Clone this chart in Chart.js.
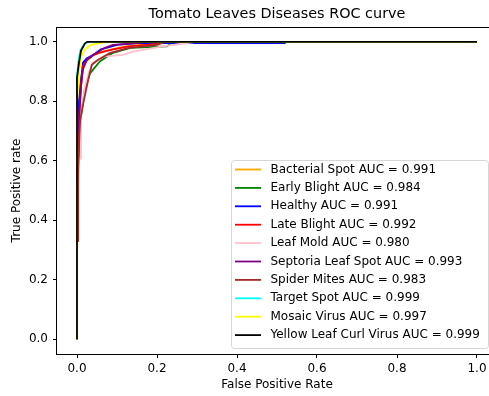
<!doctype html>
<html lang="en">
<head>
<meta charset="utf-8">
<title>Tomato Leaves Diseases ROC curve</title>
<script src="https://cdn.jsdelivr.net/npm/chart.js@4.4.1/dist/chart.umd.min.js"></script>
<style>
  html, body { margin: 0; padding: 0; background: #fff; overflow: hidden; }
  #wrap { width: 520px; height: 396px; }
</style>
</head>
<body>
<div id="wrap"><canvas id="roc" width="520" height="396"></canvas></div>
<script>
// class names, AUC scores and line colours
const classNames = ['Bacterial Spot', 'Early Blight', 'Healthy', 'Late Blight', 'Leaf Mold',
  'Septoria Leaf Spot', 'Spider Mites', 'Target Spot', 'Mosaic Virus', 'Yellow Leaf Curl Virus'];
const aucScores = ['0.991', '0.984', '0.991', '0.992', '0.980', '0.993', '0.983', '0.999', '0.997', '0.999'];
const lineColors = ['orange', 'green', 'blue', 'red', 'pink', 'purple', 'brown', 'cyan', 'yellow', 'black'];

// ROC points (false positive rate / true positive rate)
const bacterialFpr = [0, 0, 0.01, 0.02, 0.04, 0.07, 0.12, 0.18, 0.19, 1];
const bacterialTpr = [0, 0.7, 0.88, 0.93, 0.955, 0.97, 0.985, 0.993, 1, 1];
const earlyFpr = [0, 0, 0.003, 0.005, 0.01, 0.02, 0.033, 0.057, 0.09, 0.133, 0.225, 0.24, 1];
const earlyTpr = [0, 0.45, 0.59, 0.64, 0.75, 0.845, 0.895, 0.934, 0.963, 0.98, 0.985, 1, 1];
const healthyFpr = [0, 0, 0.005, 0.01, 0.015, 0.025, 0.045, 0.06, 0.1, 0.15, 0.52, 0.52, 1];
const healthyTpr = [0, 0.6, 0.8, 0.87, 0.93, 0.945, 0.96, 0.975, 0.99, 0.996, 0.996, 1, 1];
const lateFpr = [0, 0, 0.01, 0.015, 0.025, 0.04, 0.06, 0.09, 0.13, 0.2, 0.22, 1];
const lateTpr = [0, 0.6, 0.85, 0.92, 0.94, 0.955, 0.965, 0.975, 0.985, 0.993, 1, 1];
const moldFpr = [0, 0, 0.005, 0.01, 0.01, 0.02, 0.03, 0.04, 0.066, 0.115, 0.14, 0.21, 0.28, 0.3, 1];
const moldTpr = [0, 0.4, 0.6, 0.61, 0.75, 0.85, 0.9, 0.93, 0.95, 0.956, 0.967, 0.984, 0.997, 1, 1];
const septoriaFpr = [0, 0, 0.01, 0.015, 0.025, 0.045, 0.07, 0.09, 0.15, 0.17, 1];
const septoriaTpr = [0, 0.65, 0.85, 0.91, 0.94, 0.96, 0.98, 0.99, 0.996, 1, 1];
const mitesFpr = [0, 0, 0.003, 0.003, 0.006, 0.008, 0.016, 0.028, 0.037, 0.053, 0.083, 0.13, 0.2, 0.22, 1];
const mitesTpr = [0, 0.33, 0.33, 0.57, 0.69, 0.737, 0.795, 0.872, 0.923, 0.94, 0.963, 0.98, 0.99, 1, 1];
const targetFpr = [0, 0, 0.003, 0.008, 0.012, 0.02, 0.03, 1];
const targetTpr = [0, 0.88, 0.93, 0.97, 0.98, 0.995, 1, 1];
const mosaicFpr = [0, 0, 0.005, 0.01, 0.02, 0.035, 0.06, 0.08, 1];
const mosaicTpr = [0, 0.8, 0.9, 0.95, 0.975, 0.99, 0.997, 1, 1];
const curlFpr = [0, 0, 0.005, 0.01, 0.02, 0.025, 1];
const curlTpr = [0, 0.88, 0.93, 0.97, 0.995, 1, 1];

const tickValues = [0, 0.2, 0.4, 0.6, 0.8, 1.0];

const fprList = [bacterialFpr, earlyFpr, healthyFpr, lateFpr, moldFpr, septoriaFpr, mitesFpr, targetFpr, mosaicFpr, curlFpr];
const tprList = [bacterialTpr, earlyTpr, healthyTpr, lateTpr, moldTpr, septoriaTpr, mitesTpr, targetTpr, mosaicTpr, curlTpr];

const FONT = 'DejaVu Sans';

const datasets = classNames.map(function(name, i) {
  return {
    label: name + ' AUC = ' + aucScores[i],
    data: fprList[i].map(function(x, j) { return {x: x, y: tprList[i][j]}; }),
    borderColor: lineColors[i],
    backgroundColor: lineColors[i],
    borderWidth: 1.8,
    borderJoinStyle: 'round',
    pointRadius: 0,
    showLine: true,
    fill: false,
    // later curves sit on top, like matplotlib
    order: classNames.length - i
  };
});

// frame, title and legend drawn the way matplotlib places them
const extras = {
  id: 'extras',
  afterDraw(chart) {
    const ctx = chart.ctx;
    const a = chart.chartArea;
    ctx.save();
    // axes frame
    ctx.strokeStyle = '#000';
    ctx.lineWidth = 1;
    ctx.strokeRect(Math.round(a.left) - 0.5, Math.round(a.top) + 0.5, a.right - a.left, a.bottom - a.top);
    // title
    ctx.fillStyle = '#000';
    ctx.font = '14.4px "' + FONT + '"';
    ctx.textAlign = 'center';
    ctx.textBaseline = 'middle';
    ctx.fillText('Tomato Leaves Diseases ROC curve', (a.left + a.right) / 2, 14.5);
    // legend box
    const lx = 231.5, ly = 160.5, lw = 257, lh = 188;
    ctx.beginPath();
    ctx.roundRect(lx, ly, lw, lh, 3);
    ctx.fillStyle = 'rgba(255,255,255,0.8)';
    ctx.fill();
    ctx.strokeStyle = '#d6d6d6';
    ctx.lineWidth = 1;
    ctx.stroke();
    ctx.font = '12px "' + FONT + '"';
    ctx.textAlign = 'left';
    chart.data.datasets.forEach(function(ds, i) {
      const y = 169.5 + i * 18.4;
      ctx.beginPath();
      ctx.moveTo(235, y);
      ctx.lineTo(261, y);
      ctx.strokeStyle = ds.borderColor;
      ctx.lineWidth = 1.8;
      ctx.stroke();
      ctx.fillStyle = '#000';
      ctx.fillText(ds.label, 270.5, y);
    });
    ctx.restore();
  }
};

new Chart(document.getElementById('roc'), {
  type: 'scatter',
  data: { datasets: datasets },
  options: {
    responsive: false,
    animation: false,
    layout: { padding: { left: 0, right: 23, top: 27, bottom: 0 } },
    plugins: { legend: { display: false }, tooltip: { enabled: false }, title: { display: false } },
    scales: {
      x: {
        type: 'linear',
        min: -0.05,
        max: 1.05,
        afterBuildTicks: function(scale) { scale.ticks = tickValues.map(function(v) { return {value: v}; }); },
        afterFit: function(scale) { scale.height = 42; },
        border: { display: false },
        grid: { display: true, drawOnChartArea: false, drawTicks: true, tickLength: 4, color: '#000', lineWidth: 1 },
        ticks: { color: '#000', padding: 4, maxRotation: 0, font: { family: FONT, size: 12 },
          callback: function(v) { return v.toFixed(1); } },
        title: { display: true, text: 'False Positive Rate', color: '#000', font: { family: FONT, size: 12 },
          padding: { top: 0, bottom: 4 } }
      },
      y: {
        type: 'linear',
        min: -0.05,
        max: 1.05,
        afterBuildTicks: function(scale) { scale.ticks = tickValues.map(function(v) { return {value: v}; }); },
        afterFit: function(scale) { scale.width = 57; },
        border: { display: false },
        grid: { display: true, drawOnChartArea: false, drawTicks: true, tickLength: 4, color: '#000', lineWidth: 1 },
        ticks: { color: '#000', padding: 5, font: { family: FONT, size: 12 },
          callback: function(v) { return v.toFixed(1); } },
        title: { display: true, text: 'True Positive rate', color: '#000', font: { family: FONT, size: 12 },
          padding: { top: 10, bottom: 0 } }
      }
    }
  },
  plugins: [extras]
});
</script>
</body>
</html>
